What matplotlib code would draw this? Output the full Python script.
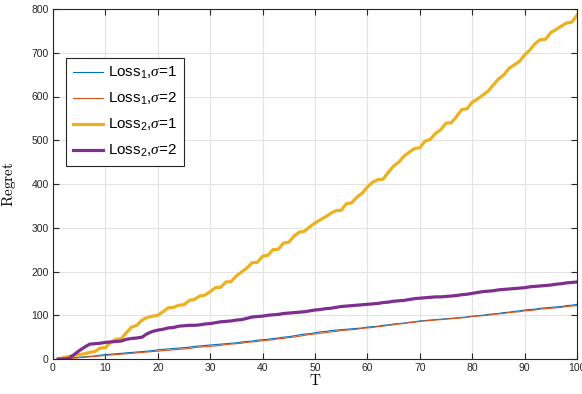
import matplotlib
matplotlib.use("Agg")
import matplotlib.pyplot as plt
import numpy as np

plt.rcParams['font.family'] = ['Liberation Sans', 'DejaVu Sans']
plt.rcParams['mathtext.fontset'] = 'custom'
plt.rcParams['mathtext.rm'] = 'Liberation Sans'
plt.rcParams['mathtext.it'] = 'Liberation Serif:italic'

T = list(range(1, 101))

loss1_sigma1 = [0, 1, 2, 3, 4, 5, 6, 7, 9, 10, 11, 12, 13, 14, 15, 16, 17, 18, 19, 21,
                22, 23, 24, 25, 26, 27, 29, 30, 31, 32, 33, 34, 35, 36, 37, 39, 40, 41, 43, 44,
                45, 47, 48, 50, 51, 53, 55, 57, 58, 60, 62, 63, 65, 66, 67, 68, 69, 70, 71, 73,
                74, 75, 77, 78, 80, 81, 82, 84, 85, 87, 88, 89, 90, 91, 92, 93, 94, 95, 96, 98,
                99, 100, 102, 103, 104, 106, 107, 109, 110, 112, 113, 114, 116, 117, 118, 119, 120, 122, 123, 125]

loss1_sigma2 = [0, 0, 1, 2, 3, 4, 5, 6, 7, 8, 9, 10, 11, 12, 13, 14, 15, 16, 17, 18,
                19, 20, 21, 22, 23, 24, 26, 27, 28, 29, 30, 31, 33, 34, 35, 36, 38, 39, 40, 42,
                43, 44, 46, 47, 49, 50, 52, 54, 56, 57, 59, 60, 62, 63, 65, 66, 67, 68, 70, 71,
                72, 74, 75, 77, 78, 80, 81, 83, 84, 86, 87, 88, 89, 90, 91, 92, 93, 94, 95, 97,
                98, 99, 100, 102, 103, 104, 106, 107, 108, 110, 111, 112, 114, 115, 116, 117, 118, 120, 121, 122]

loss2_sigma1 = [0, 3, 6, 8, 10, 12, 15, 17, 25, 26, 38, 45, 46, 60, 73, 77, 89, 95, 98, 100,
                108, 117, 118, 123, 124, 134, 136, 144, 146, 154, 163, 164, 176, 177, 190, 199, 208, 220, 221, 235,
                237, 250, 251, 265, 267, 281, 290, 292, 302, 311, 318, 325, 333, 339, 340, 355, 357, 370, 379, 393,
                404, 410, 411, 427, 441, 450, 464, 473, 481, 483, 498, 502, 516, 524, 539, 540, 554, 570, 572, 587,
                594, 603, 612, 626, 640, 649, 664, 672, 680, 695, 706, 721, 730, 731, 746, 753, 761, 768, 770, 786]

loss2_sigma2 = [0, 0, 1, 10, 19, 27, 34, 35, 36, 38, 39, 40, 41, 45, 47, 48, 50, 58, 63, 66,
                68, 71, 72, 75, 76, 77, 77, 78, 80, 81, 83, 85, 86, 87, 89, 90, 93, 96, 97, 98,
                100, 101, 102, 104, 105, 106, 107, 108, 110, 112, 113, 115, 116, 118, 120, 121, 122, 123, 124, 125,
                126, 127, 129, 130, 132, 133, 134, 136, 138, 139, 140, 141, 142, 142, 143, 144, 145, 147, 148, 150,
                152, 154, 155, 156, 158, 159, 160, 161, 162, 163, 165, 166, 167, 168, 169, 171, 172, 174, 175, 176]

labels = [r'Loss$_1$,$\sigma$=1', r'Loss$_1$,$\sigma$=2',
          r'Loss$_2$,$\sigma$=1', r'Loss$_2$,$\sigma$=2']
colors = ['#0072BD', '#D95319', '#EDB120', '#7E2F8E']
widths = [0.8, 0.8, 2.3, 2.3]
series = [loss1_sigma1, loss1_sigma2, loss2_sigma1, loss2_sigma2]

fig = plt.figure(figsize=(5.82, 3.94), dpi=100)
ax = fig.add_axes([53 / 582, 1 - 359 / 394, 524 / 582, 350 / 394])

for ys, c, lw, lab in zip(series, colors, widths, labels):
    ax.plot(T, ys, color=c, linewidth=lw, label=lab, solid_joinstyle='miter')

ax.set_xlim(0, 100)
ax.set_ylim(0, 800)
ax.set_xticks(np.arange(0, 101, 10))
ax.set_yticks(np.arange(0, 801, 100))
ax.grid(True, color='#e3e3e3', linewidth=0.8)
ax.set_axisbelow(True)

axis_color = '#262626'
for sp in ax.spines.values():
    sp.set_color(axis_color)
    sp.set_linewidth(0.8)
ax.tick_params(direction='in', length=4, width=0.8, colors=axis_color,
               labelsize=7.5, labelcolor='#262626', top=True, right=True, pad=3)

ax.set_xlabel(r'$\mathrm{T}$', fontsize=11, math_fontfamily='cm', labelpad=0)
ax.set_ylabel(r'$\mathrm{Regret}$', fontsize=11, math_fontfamily='cm', labelpad=10)

leg = ax.legend(loc='upper left', bbox_to_anchor=(0.0248, 0.86), fontsize=11,
                handlelength=2.0, handletextpad=0.3, labelspacing=0.65,
                borderpad=0.45, borderaxespad=0, fancybox=False, framealpha=1)
leg.get_frame().set_edgecolor(axis_color)
leg.get_frame().set_linewidth(0.8)

fig.savefig('out.png', dpi=100)
